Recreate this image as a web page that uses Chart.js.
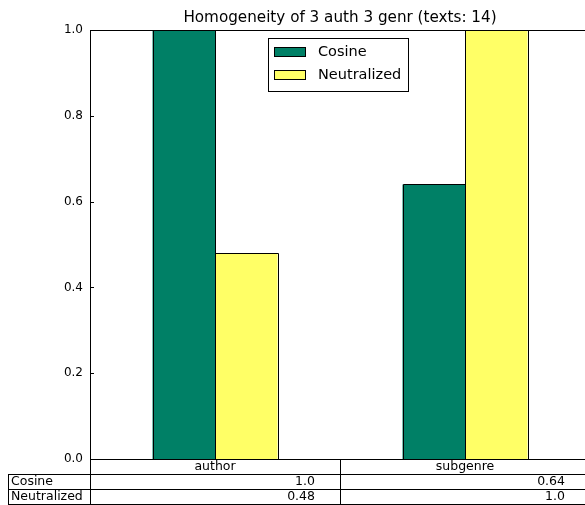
<!DOCTYPE html>
<html>
<head>
<meta charset="utf-8">
<script src="https://cdn.jsdelivr.net/npm/chart.js@4"></script>
<style>
  html, body { margin: 0; padding: 0; background: #fff; overflow: hidden; }
  #wrap { width: 595px; height: 505px; }
</style>
</head>
<body>
<div id="wrap"><canvas id="c" width="595" height="505"></canvas></div>
<script>
const categories = ["author", "subgenre"];
const seriesNames = ["Cosine", "Neutralized"];
const cosineValues = [1.0, 0.64];
const neutralizedValues = [0.48, 1.0];
const cosineLabels = ["1.0", "0.64"];
const neutralizedLabels = ["0.48", "1.0"];
const yTicks = [0.0, 0.2, 0.4, 0.6, 0.8, 1.0];
const titleText = "Homogeneity of 3 auth 3 genr (texts: 14)";

const FONT = "'DejaVu Sans', sans-serif";
const colors = ["#008066", "#ffff66"];

const overlay = {
  id: "overlay",
  afterDatasetsDraw(chart) {
    const ctx = chart.ctx;
    ctx.save();
    ctx.strokeStyle = "#000";
    ctx.lineWidth = 1;
    chart.data.datasets.forEach((ds, di) => {
      chart.getDatasetMeta(di).data.forEach(bar => {
        const l = Math.round(bar.x - bar.width / 2) + 0.5;
        const r = Math.round(bar.x + bar.width / 2) + 0.5;
        const t = Math.round(bar.y) + 0.5;
        const b = Math.round(bar.base) + 0.5;
        ctx.beginPath();
        ctx.moveTo(l, b); ctx.lineTo(l, t); ctx.lineTo(r, t); ctx.lineTo(r, b);
        ctx.stroke();
      });
    });
    ctx.restore();
  },
  afterDraw(chart) {
    const ctx = chart.ctx;
    const a = chart.chartArea;
    const xs = chart.scales.x;
    const ys = chart.scales.y;
    ctx.save();
    ctx.strokeStyle = "#000";
    ctx.lineWidth = 1;
    ctx.strokeRect(Math.round(a.left) + 0.5, Math.round(a.top) + 0.5, Math.round(a.right - a.left), Math.round(a.bottom - a.top));
    yTicks.forEach(v => {
      const y = Math.round(ys.getPixelForValue(v)) + 0.5;
      ctx.beginPath();
      ctx.moveTo(a.left, y); ctx.lineTo(a.left + 4, y);
      ctx.moveTo(a.right, y); ctx.lineTo(a.right - 4, y);
      ctx.stroke();
    });
    ctx.fillStyle = "#000";
    ctx.font = "15.2px " + FONT;
    ctx.textAlign = "center";
    ctx.textBaseline = "middle";
    ctx.fillText(titleText, (a.left + a.right) / 2, 18);

    const lx = 268, ly = 38, lw = 140, lh = 53;
    ctx.fillStyle = "#fff";
    ctx.fillRect(lx, ly, lw, lh);
    ctx.strokeRect(lx + 0.5, ly + 0.5, lw, lh);
    ctx.font = "14.5px " + FONT;
    ctx.textAlign = "left";
    chart.data.datasets.forEach((ds, i) => {
      const cy = 52 + i * 23;
      ctx.fillStyle = ds.backgroundColor;
      ctx.fillRect(274, cy - 5, 32, 10);
      ctx.strokeRect(274.5, cy - 4.5, 31, 9);
      ctx.fillStyle = "#000";
      ctx.fillText(ds.label, 318, cy);
    });

    const nCat = categories.length;
    const catW = (a.right - a.left) / nCat;
    const edges = [];
    for (let i = 0; i <= nCat; i++) edges.push(Math.round(xs.getPixelForValue(i - 0.5)));
    const rowTop = [Math.round(a.bottom), Math.round(a.bottom) + 15, Math.round(a.bottom) + 30];
    const rowH = 15;
    const tableBottom = rowTop[2] + rowH;
    const labelLeft = 8;
    ctx.strokeStyle = "#000";
    ctx.beginPath();
    ctx.moveTo(labelLeft, rowTop[1] + 0.5); ctx.lineTo(edges[nCat], rowTop[1] + 0.5);
    ctx.moveTo(labelLeft, rowTop[2] + 0.5); ctx.lineTo(edges[nCat], rowTop[2] + 0.5);
    ctx.moveTo(labelLeft, tableBottom + 0.5); ctx.lineTo(edges[nCat], tableBottom + 0.5);
    ctx.moveTo(labelLeft + 0.5, rowTop[1]); ctx.lineTo(labelLeft + 0.5, tableBottom);
    edges.forEach(e => { ctx.moveTo(e + 0.5, rowTop[0]); ctx.lineTo(e + 0.5, tableBottom); });
    ctx.stroke();

    ctx.fillStyle = "#000";
    ctx.font = "12.5px " + FONT;
    ctx.textBaseline = "middle";
    ctx.textAlign = "center";
    categories.forEach((c, i) => ctx.fillText(c, xs.getPixelForValue(i), rowTop[0] + 7.5));
    ctx.textAlign = "left";
    seriesNames.forEach((n, r) => ctx.fillText(n, labelLeft + 3, rowTop[r + 1] + 7.5));
    ctx.textAlign = "right";
    const rows = [cosineLabels, neutralizedLabels];
    rows.forEach((vals, r) => {
      vals.forEach((v, i) => ctx.fillText(v, edges[i + 1] - catW * 0.1, rowTop[r + 1] + 7.5));
    });
    ctx.restore();
  }
};

new Chart(document.getElementById("c"), {
  type: "bar",
  data: {
    labels: categories,
    datasets: [
      { label: seriesNames[0], data: cosineValues, backgroundColor: colors[0], borderWidth: 0 },
      { label: seriesNames[1], data: neutralizedValues, backgroundColor: colors[1], borderWidth: 0 }
    ]
  },
  options: {
    responsive: false,
    animation: false,
    devicePixelRatio: 1,
    layout: { padding: { left: 0, top: 30, right: 5, bottom: 46 } },
    plugins: { legend: { display: false }, title: { display: false }, tooltip: { enabled: false } },
    datasets: { bar: { categoryPercentage: 0.5, barPercentage: 1.0 } },
    scales: {
      x: { display: false, offset: true },
      y: {
        min: 0, max: 1,
        afterFit(scale) { scale.width = 90; },
        afterBuildTicks(scale) { scale.ticks = yTicks.map(v => ({ value: v })); },
        ticks: { padding: 7, color: "#000", font: { family: FONT, size: 12 }, callback: v => Number(v).toFixed(1) },
        grid: { display: false, drawTicks: false },
        border: { display: true, color: "#000" }
      }
    }
  },
  plugins: [overlay]
});
</script>
</body>
</html>
